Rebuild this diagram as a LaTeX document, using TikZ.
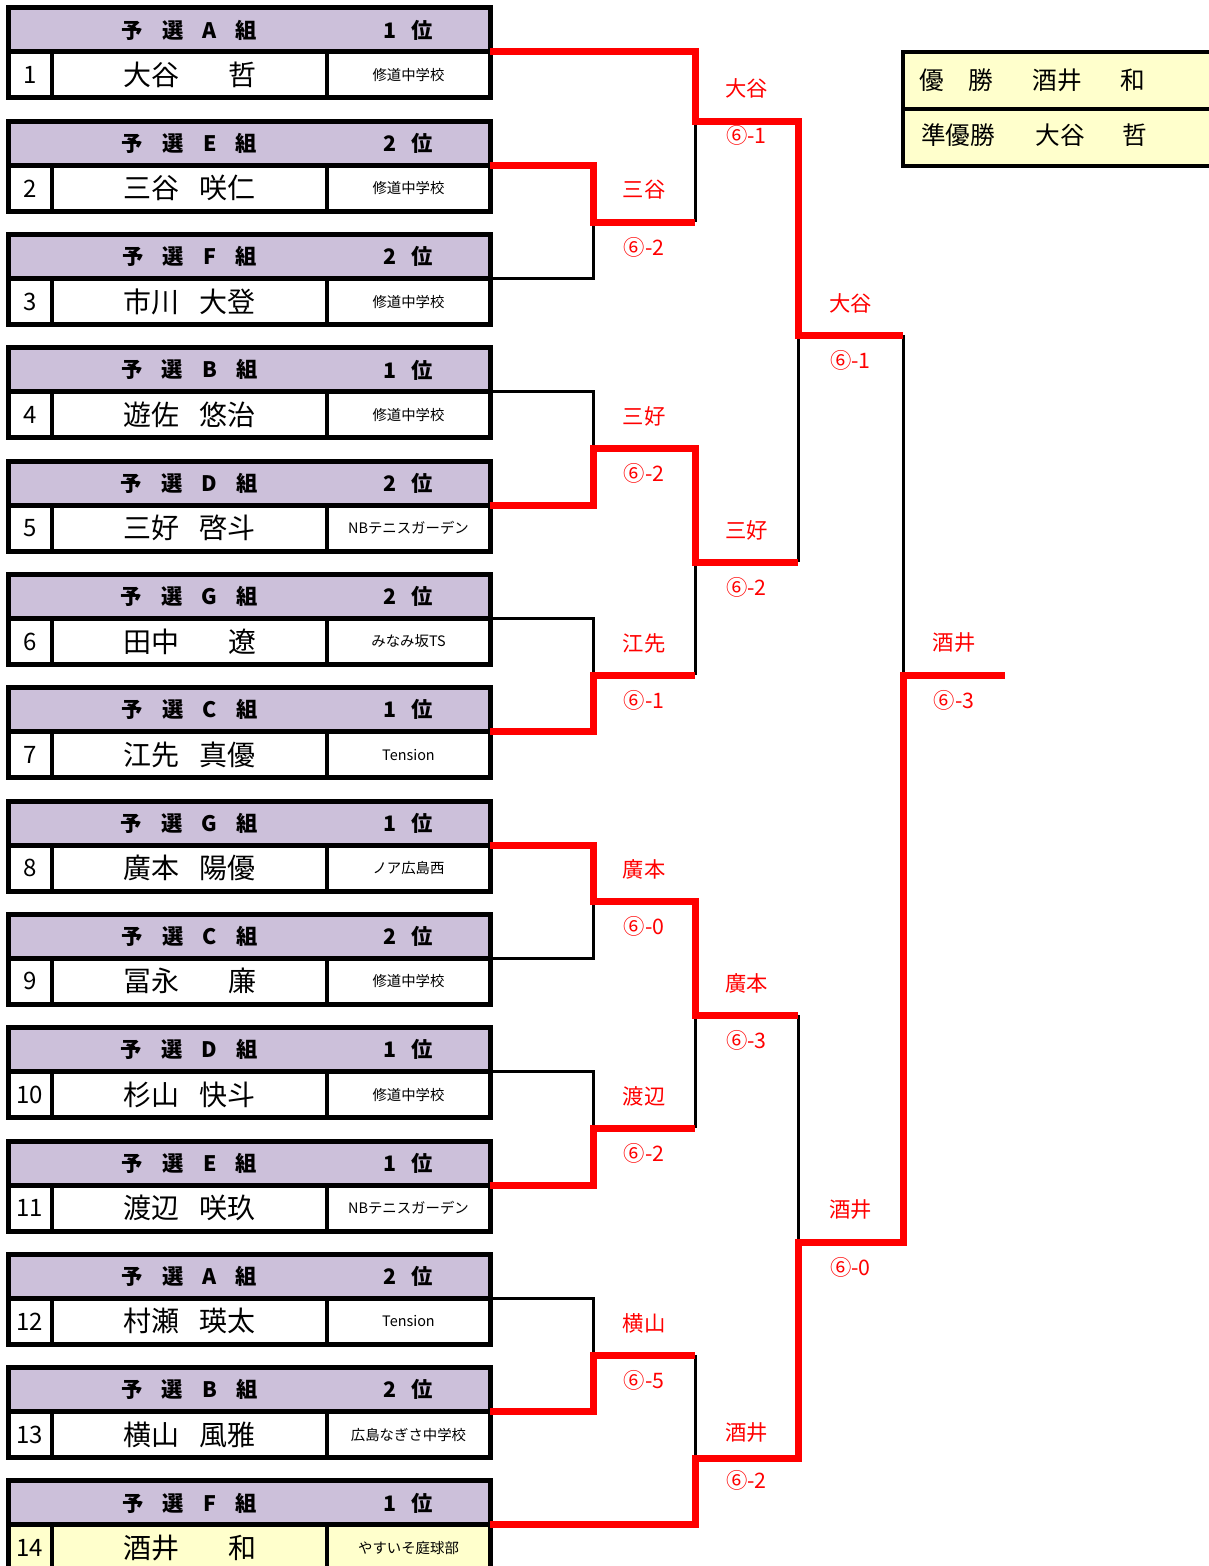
\documentclass[tikz,border=0pt]{standalone}
\usepackage{fontspec}
\setmainfont{Noto Sans CJK JP}
\usetikzlibrary{positioning}

\definecolor{grouphead}{RGB}{204,192,218}
\definecolor{champfill}{RGB}{255,255,204}
\newcommand\gap{\hspace{0.7em}}
\newcommand\wgap{\hspace{1.75em}}
\newcommand\hg{\hspace{0.9em}}
\newcommand\rg{\hspace{0.7em}}

\begin{document}
\begin{tikzpicture}[x=0.75pt,
                    y=-0.75pt,
                    head cell/.style={draw,line width=2.6pt,fill=grouphead,minimum width=361.5pt,minimum height=33pt,inner sep=0pt,outer sep=0pt},
                    row cell/.style={draw,line width=2.6pt,minimum height=34.5pt,inner sep=0pt,outer sep=0pt},
                    num cell/.style={row cell,minimum width=33pt,font=\fontsize{18}{20}\selectfont},
                    name cell/.style={row cell,minimum width=206.25pt,font=\fontsize{21}{24}\selectfont},
                    school cell/.style={row cell,minimum width=122.25pt,font=\fontsize{10.8}{12}\selectfont},
                    head text/.style={font=\bfseries\fontsize{16}{18}\selectfont,inner sep=0pt},
                    win line/.style={red,line width=5.25pt},
                    lose line/.style={black,line width=2.25pt},
                    win name/.style={red,font=\fontsize{16}{18}\selectfont,yshift=24pt},
                    win score/.style={red,font=\fontsize{16}{18}\selectfont,yshift=-19pt},
                    result box/.style={draw,line width=3pt,fill=champfill,minimum width=234pt,minimum height=42.75pt,inner sep=0pt,outer sep=0pt},
                    result text/.style={font=\fontsize{18.5}{20}\selectfont,inner sep=0pt}]

  \useasboundingbox (0,0) rectangle (1209,1566);

  % entries
  \foreach \k/\grp/\rank/\name/\school/\fillc in {
    1/A/1/{大谷\wgap 哲}/修道中学校/white,
    2/E/2/{三谷\gap 咲仁}/修道中学校/white,
    3/F/2/{市川\gap 大登}/修道中学校/white,
    4/B/1/{遊佐\gap 悠治}/修道中学校/white,
    5/D/2/{三好\gap 啓斗}/NBテニスガーデン/white,
    6/G/2/{田中\wgap 遼}/みなみ坂TS/white,
    7/C/1/{江先\gap 真優}/Tension/white,
    8/G/1/{廣本\gap 陽優}/ノア広島西/white,
    9/C/2/{冨永\wgap 廉}/修道中学校/white,
    10/D/1/{杉山\gap 快斗}/修道中学校/white,
    11/E/1/{渡辺\gap 咲玖}/NBテニスガーデン/white,
    12/A/2/{村瀬\gap 瑛太}/Tension/white,
    13/B/2/{横山\gap 風雅}/広島なぎさ中学校/white,
    14/F/1/{酒井\wgap 和}/やすいそ庭球部/champfill}
  {
    \pgfmathsetmacro\T{30+113.3*(\k-1)}
    \node[head cell] (h\k) at (249,\T) {};
    \node[num cell,fill=\fillc,below right=0pt and 0pt of h\k.south west] (c\k) {\k};
    \node[name cell,fill=\fillc,right=0pt of c\k] (nm\k) {\name};
    \node[school cell,fill=\fillc,right=0pt of nm\k] (s\k) {\school};
    \node[head text] (g\k) at (h\k.center -| nm\k.center) {予\hg 選\hg \grp\hg 組};
    \node[head text] (r\k) at (h\k.center -| s\k.center) {\rank\rg 位};
    \draw[line width=3.75pt] (h\k.north west) rectangle (s\k.south east);
    \draw[line width=3.75pt] (h\k.south west) -- (h\k.south east);
    \coordinate (p\k) at (h\k.south east);
  }

  % bracket points
  \coordinate (m1) at (593,222);
  \coordinate (m2) at (593,448);
  \coordinate (m3) at (593,675);
  \coordinate (m4) at (593,901);
  \coordinate (m5) at (593,1128);
  \coordinate (m6) at (593,1355);
  \coordinate (n1) at (695,122);
  \coordinate (n2) at (695,562);
  \coordinate (n3) at (695,1015);
  \coordinate (n4) at (695,1458);
  \coordinate (q1) at (798,335);
  \coordinate (q2) at (798,1242);
  \coordinate (f) at (903,675);
  \coordinate (fe) at (1005,675);

  % losers
  \draw[lose line] (p3) -| (m1);
  \draw[lose line] (p4) -| (m2);
  \draw[lose line] (p6) -| (m3);
  \draw[lose line] (p9) -| (m4);
  \draw[lose line] (p10) -| (m5);
  \draw[lose line] (p12) -| (m6);
  \draw[lose line] (m1 -| n1) -- (n1);
  \draw[lose line] (m3 -| n2) -- (n2);
  \draw[lose line] (m5 -| n3) -- (n3);
  \draw[lose line] (m6 -| n4) -- (n4);
  \draw[lose line] (n2 -| q1) -- (q1);
  \draw[lose line] (n3 -| q2) -- (q2);
  \draw[lose line] (q1 -| f) -- (f);

  % winners
  \draw[win line] (p2) -| (m1) -- node[win name] (w1) {三谷} node[win score] (x1) {⑥-2} (m1 -| n1);
  \draw[win line] (p5) -| (m2) -| node[win name,pos=0.25] (w2) {三好} node[win score,pos=0.25] (x2) {⑥-2} (n2)
                  -- node[win name] (w8) {三好} node[win score] (x8) {⑥-2} (n2 -| q1);
  \draw[win line] (p7) -| (m3) -- node[win name] (w3) {江先} node[win score] (x3) {⑥-1} (m3 -| n2);
  \draw[win line] (p8) -| (m4) -| node[win name,pos=0.25] (w4) {廣本} node[win score,pos=0.25] (x4) {⑥-0} (n3)
                  -- node[win name] (w9) {廣本} node[win score] (x9) {⑥-3} (n3 -| q2);
  \draw[win line] (p11) -| (m5) -- node[win name] (w5) {渡辺} node[win score] (x5) {⑥-2} (m5 -| n3);
  \draw[win line] (p13) -| (m6) -- node[win name] (w6) {横山} node[win score] (x6) {⑥-5} (m6 -| n4);
  \draw[win line] (p1) -| (n1) -| node[win name,pos=0.25,yshift=1.5pt] (w7) {大谷} node[win score,pos=0.25,yshift=9pt] (x7) {⑥-1} (q1)
                  -- node[win name] (w11) {大谷} node[win score] (x11) {⑥-1} (q1 -| f);
  \draw[win line] (p14) -| (n4) -| node[win name,pos=0.25,yshift=-5pt] (w10) {酒井} node[win score,pos=0.25,yshift=2pt] (x10) {⑥-2} (q2)
                  -| node[win name,pos=0.25] (w12) {酒井} node[win score,pos=0.25] (x12) {⑥-0} (f)
                  -- node[win name] (w13) {酒井} node[win score] (x13) {⑥-3} (fe);

  % results
  \node[result box,anchor=north west] (champ) at (903,52) {};
  \node[result box,below right=0pt and 0pt of champ.south west] (runner) {};
  \node[result text] (t1) at (932,80) {優};
  \node[result text] (t2) at (981,80) {勝};
  \node[result text] (t3) at (1057,80) {酒井};
  \node[result text] (t4) at (1133,80) {和};
  \node[result text] (t5) at (958,135) {準優勝};
  \node[result text] (t6) at (1060,135) {大谷};
  \node[result text] (t7) at (1135,135) {哲};
\end{tikzpicture}
\end{document}
